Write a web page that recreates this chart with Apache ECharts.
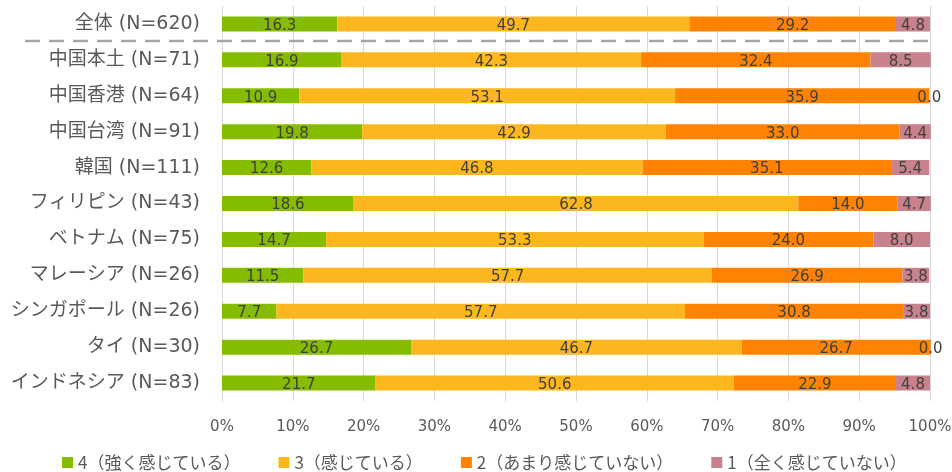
<!DOCTYPE html>
<html>
<head>
<meta charset="utf-8">
<script src="https://cdn.jsdelivr.net/npm/echarts@6/dist/echarts.min.js"></script>
<style>
html,body{margin:0;padding:0;background:#fff;}
#chart{width:952px;height:472px;}
</style>
</head>
<body>
<div id="chart"></div>
<script>
// Regions surveyed, top to bottom
const categories = [
  '全体 (N=620)', '中国本土 (N=71)', '中国香港 (N=64)', '中国台湾 (N=91)',
  '韓国 (N=111)', 'フィリピン (N=43)', 'ベトナム (N=75)', 'マレーシア (N=26)',
  'シンガポール (N=26)', 'タイ (N=30)', 'インドネシア (N=83)'
];
const seriesNames = ['4（強く感じている）', '3（感じている）', '2（あまり感じていない）', '1（全く感じていない）'];
// Share of responses (%) per answer
const strongly   = [16.3, 16.9, 10.9, 19.8, 12.6, 18.6, 14.7, 11.5,  7.7, 26.7, 21.7];
const somewhat   = [49.7, 42.3, 53.1, 42.9, 46.8, 62.8, 53.3, 57.7, 57.7, 46.7, 50.6];
const notMuch    = [29.2, 32.4, 35.9, 33.0, 35.1, 14.0, 24.0, 26.9, 30.8, 26.7, 22.9];
const notAtAll   = [ 4.8,  8.5,  0.0,  4.4,  5.4,  4.7,  8.0,  3.8,  3.8,  0.0,  4.8];
const xTicks = [0, 10, 20, 30, 40, 50, 60, 70, 80, 90, 100];

const colors = ['#86BC00', '#FDB71E', '#FF8300', '#C8828C'];
const values = [strongly, somewhat, notMuch, notAtAll];
const latinFont = '"DejaVu Sans", "Noto Sans CJK JP", sans-serif';
const cjkFont = '"Noto Sans CJK JP", "Noto Sans", sans-serif';

const chart = echarts.init(document.getElementById('chart'));
chart.setOption({
  animation: false,
  color: colors,
  grid: { left: 222, right: 22, top: 6, bottom: 71, containLabel: false, outerBoundsMode: 'none' },
  xAxis: {
    type: 'value', min: xTicks[0], max: xTicks[xTicks.length - 1], interval: 10,
    axisLine: { show: false }, axisTick: { show: false },
    splitLine: { lineStyle: { color: '#D9D9D9', width: 1 } },
    axisLabel: { formatter: '{value}%', color: '#595959', fontSize: 15, fontFamily: latinFont, margin: 19 }
  },
  yAxis: {
    type: 'category', data: categories, inverse: true,
    axisLine: { show: false }, axisTick: { show: false },
    axisLabel: { color: '#595959', fontSize: 19, fontFamily: latinFont, margin: 22 }
  },
  legend: {
    data: seriesNames, left: 57, bottom: -4, itemWidth: 11, itemHeight: 11, itemGap: 38,
    icon: 'rect',
    textStyle: { color: '#595959', fontSize: 17, fontFamily: cjkFont }
  },
  series: seriesNames.map((name, i) => ({
    name, type: 'bar', stack: 'total', barWidth: 15, clip: false,
    data: values[i],
    itemStyle: { color: colors[i] },
    label: {
      show: true, position: 'inside', offset: [0, 2], color: '#404040', fontSize: 15, fontFamily: latinFont,
      formatter: p => p.value.toFixed(1)
    }
  }))
});

// Dashed separator between the overall row and the individual regions
const y0 = chart.convertToPixel({ yAxisIndex: 0 }, categories[0]);
const y1 = chart.convertToPixel({ yAxisIndex: 0 }, categories[1]);
const xEnd = chart.convertToPixel({ xAxisIndex: 0 }, 100);
const ySep = (y0 + y1) / 2 - 1;
chart.setOption({
  graphic: [{
    type: 'line', silent: true,
    shape: { x1: 25, y1: ySep, x2: xEnd, y2: ySep },
    style: { stroke: '#A6A6A6', lineWidth: 2.5, lineDash: [15, 9] }
  }]
});
</script>
</body>
</html>
